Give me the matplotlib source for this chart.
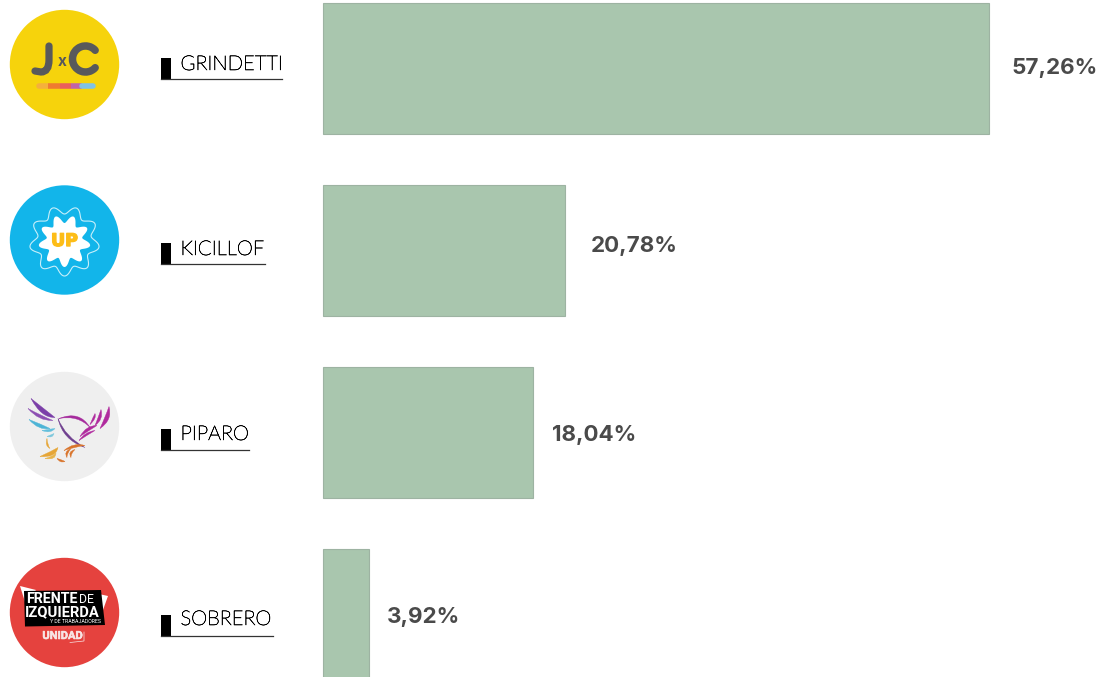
import numpy as np
import matplotlib
matplotlib.use("Agg")
import matplotlib.pyplot as plt
import matplotlib.patheffects as pe
from matplotlib.patches import Arc, Circle, Polygon, PathPatch, Rectangle
from matplotlib.path import Path

candidatos = ["GRINDETTI", "KICILLOF", "PIPARO", "SOBRERO"]
valores = [57.26, 20.78, 18.04, 3.92]
etiquetas = ["57,26%", "20,78%", "18,04%", "3,92%"]
colores_logo = ["#f6d30c", "#12b5ea", "#efefef", "#e5423e"]

# posiciones en pixeles de la imagen
ANCHO, ALTO = 1100, 677
X0 = 323.3
ESCALA = 11.62
Y0 = 68.5
PASO = 182
centros_logo = [64.5, 240, 426.5, 612.5]
ajuste_etiqueta = [22.5, 26, 19, 18.5]
y_etiqueta = [67.5, 246.5, 435, 617]
fin_linea = [282, 265, 249, 273]
y_linea = [79, 264, 450, 636]
y_nombre = [70, 255, 440, 625]

fig = plt.figure(figsize=(ANCHO / 100, ALTO / 100), dpi=100)

# barras
ax = fig.add_axes([0, 0, 1, 1])
ax.set_xlim(-X0 / ESCALA, (ANCHO - X0) / ESCALA)
ax.set_ylim((ALTO - Y0) / PASO, -Y0 / PASO)
ax.axis("off")
pos = np.arange(len(valores))
ax.barh(pos, valores, height=131 / PASO, color="#a9c6ae", edgecolor="#9db3a2", linewidth=0.8)

# capa para logos y textos, en pixeles
capa = fig.add_axes([0, 0, 1, 1])
capa.set_xlim(0, ANCHO)
capa.set_ylim(ALTO, 0)
capa.axis("off")
capa.patch.set_alpha(0)

for i, nombre in enumerate(candidatos):
    capa.add_patch(Circle((64.5, centros_logo[i]), 54.7, color=colores_logo[i], lw=0))
    # caja negra + linea debajo del nombre
    capa.add_patch(Rectangle((161, y_linea[i] - 21), 10, 21, color="black", lw=0))
    capa.plot([161, fin_linea[i]], [y_linea[i], y_linea[i]], color="#333333", lw=0.9)
    capa.text(180.5, y_nombre[i], nombre, fontsize=14.6, family="Lato", weight="light", color="#000000",
              va="baseline", path_effects=[pe.withStroke(linewidth=0.4, foreground="#000000")])
    fin_barra = X0 + valores[i] * ESCALA
    capa.text(fin_barra + ajuste_etiqueta[i], y_etiqueta[i], etiquetas[i], fontsize=16.1, family="Inter",
              weight="bold", color="#4a4a4a", va="center")


def pluma(x0, y0, a, c, b, ancho, color):
    # trazo afinado en las puntas, coordenadas relativas al centro del logo
    a, c, b = np.array(a, float), np.array(c, float), np.array(b, float)
    d = b - a
    n = np.array([-d[1], d[0]]) / np.hypot(*d) * ancho
    c1, c2 = c + n, c - n
    verts = [a, c1, b, c2, a]
    codes = [Path.MOVETO, Path.CURVE3, Path.CURVE3, Path.CURVE3, Path.CURVE3]
    verts = [(x0 + v[0], y0 + v[1]) for v in verts]
    capa.add_patch(PathPatch(Path(verts, codes), fc=color, ec=color, lw=0.3))


# logo JxC
gris = "#58595b"
capa.add_patch(PathPatch(Path([(49, 46), (49, 60), (49, 72), (41, 72), (35, 71)],
                              [Path.MOVETO, Path.LINETO, Path.CURVE3, Path.CURVE3, Path.LINETO]),
                         fc="none", ec=gris, lw=5.2, capstyle="round"))
capa.add_patch(Arc((85.5, 59), 26, 26, theta1=42, theta2=318, ec=gris, lw=5.4, capstyle="round"))
capa.text(62, 62, "x", fontsize=11, family="Inter", weight="bold", color=gris, ha="center", va="center")
for x0, x1, c in [(38.5, 48, "#f5b03c"), (48, 60, "#ef7b30"), (60, 71, "#ea5f5c"), (71, 82, "#c264a6"), (82, 92.5, "#7fc2e6")]:
    capa.plot([x0, x1], [85.5, 85.5], color=c, lw=4, solid_capstyle="round" if c in ("#f5b03c", "#7fc2e6") else "butt")

# logo UP
cy = centros_logo[1] + 1
ang = np.linspace(0, 2 * np.pi, 360)
r_ext = 31 + 4 * np.cos(9 * ang)
r_int = 22 + 4 * np.cos(9 * ang)
capa.add_patch(Polygon(np.c_[64.5 + r_ext * np.sin(ang), cy + r_ext * np.cos(ang)], fc="#12b5ea", ec="#c8effa", lw=0.8))
capa.add_patch(Polygon(np.c_[64.5 + r_int * np.sin(ang), cy + r_int * np.cos(ang)], fc="white", ec="none"))
capa.text(64.5, cy, "UP", fontsize=12.5, family="DejaVu Sans", weight="bold", color="#fdbd17", ha="center", va="center",
          path_effects=[pe.withStroke(linewidth=1, foreground="#fdbd17")])

# logo aguila
cy = centros_logo[2]
plumas = [
    ((-33, -28), (-20, -12), (-9, -9), 4.5, "#7b3fa8"),
    ((-36, -18), (-24, -8), (-11, -6), 3, "#8d4fb3"),
    ((-35, -7), (-24, 1), (-14, 2), 3.5, "#4db4d6"),
    ((-22, 4), (-14, 5), (-9, 2), 2.5, "#63bfdc"),
    ((-17, 10), (-12, 10), (-10, 7), 2, "#7cc7dc"),
    ((-6, -8), (0, 12), (21, 21), 2, "#6f3f8f"),
    ((-5, -8), (15, -14), (26, 1), 2.5, "#a52a9c"),
    ((16, 10), (24, 1), (33, -1), 3, "#b02a9e"),
    ((15, 14), (22, 7), (31, 4), 2, "#b02a9e"),
    ((36, 2), (45, -8), (45, -20), 4, "#b02a9e"),
    ((31, -1), (37, -8), (37, -17), 3, "#b02a9e"),
    ((26, -2), (31, -9), (31, -13), 2, "#b02a9e"),
    ((-17, 12), (-18, 19), (-14, 22), 1.5, "#e6a637"),
    ((-24, 30), (-10, 28), (-6, 21), 4, "#e6a637"),
    ((-19, 32), (-9, 32), (-8, 26), 2.5, "#e8b44a"),
    ((-7, 32), (-3, 35), (1, 35), 2, "#d9742b"),
    ((0, 24), (10, 18), (21, 19), 2.5, "#d9742b"),
    ((3, 31), (1, 26), (7, 22), 2, "#d9742b"),
    ((7, 31), (5, 26), (11, 23), 2, "#d9742b"),
]
for a, c, b, ancho, color in plumas:
    pluma(64, cy, a, c, b, ancho, color)

# logo FIT
capa.add_patch(Polygon([(20, 586), (36, 590), (25, 602)], color="white", lw=0))
capa.add_patch(Polygon([(99, 594), (108, 596), (103, 610)], color="white", lw=0))
capa.add_patch(Polygon([(24, 591), (101, 590), (105, 625), (25, 626.5)], color="black", lw=0))
capa.text(26, 599, "FRENTE", fontsize=10.3, family="Roboto", weight="bold", color="white", va="center")
capa.text(79.5, 599.5, "DE", fontsize=8.8, family="Roboto", color="white", va="center")
capa.text(25, 612, "IZQUIERDA", fontsize=10.6, family="Roboto", weight="bold", color="white", va="center")
capa.text(50, 621.5, "Y DE TRABAJADORES", fontsize=3.8, family="Roboto", color="white", va="center")
capa.text(62.5, 636, "UNIDAD", fontsize=8, family="Roboto", weight="bold", color="#f8e4e4", ha="center", va="center",
          path_effects=[pe.withStroke(linewidth=0.4, foreground="#f8e4e4")])
capa.plot([84, 84, 70], [632, 641, 642.5], color="#f8e4e4", lw=0.5)

fig.savefig("out.png", dpi=100, facecolor="white")
